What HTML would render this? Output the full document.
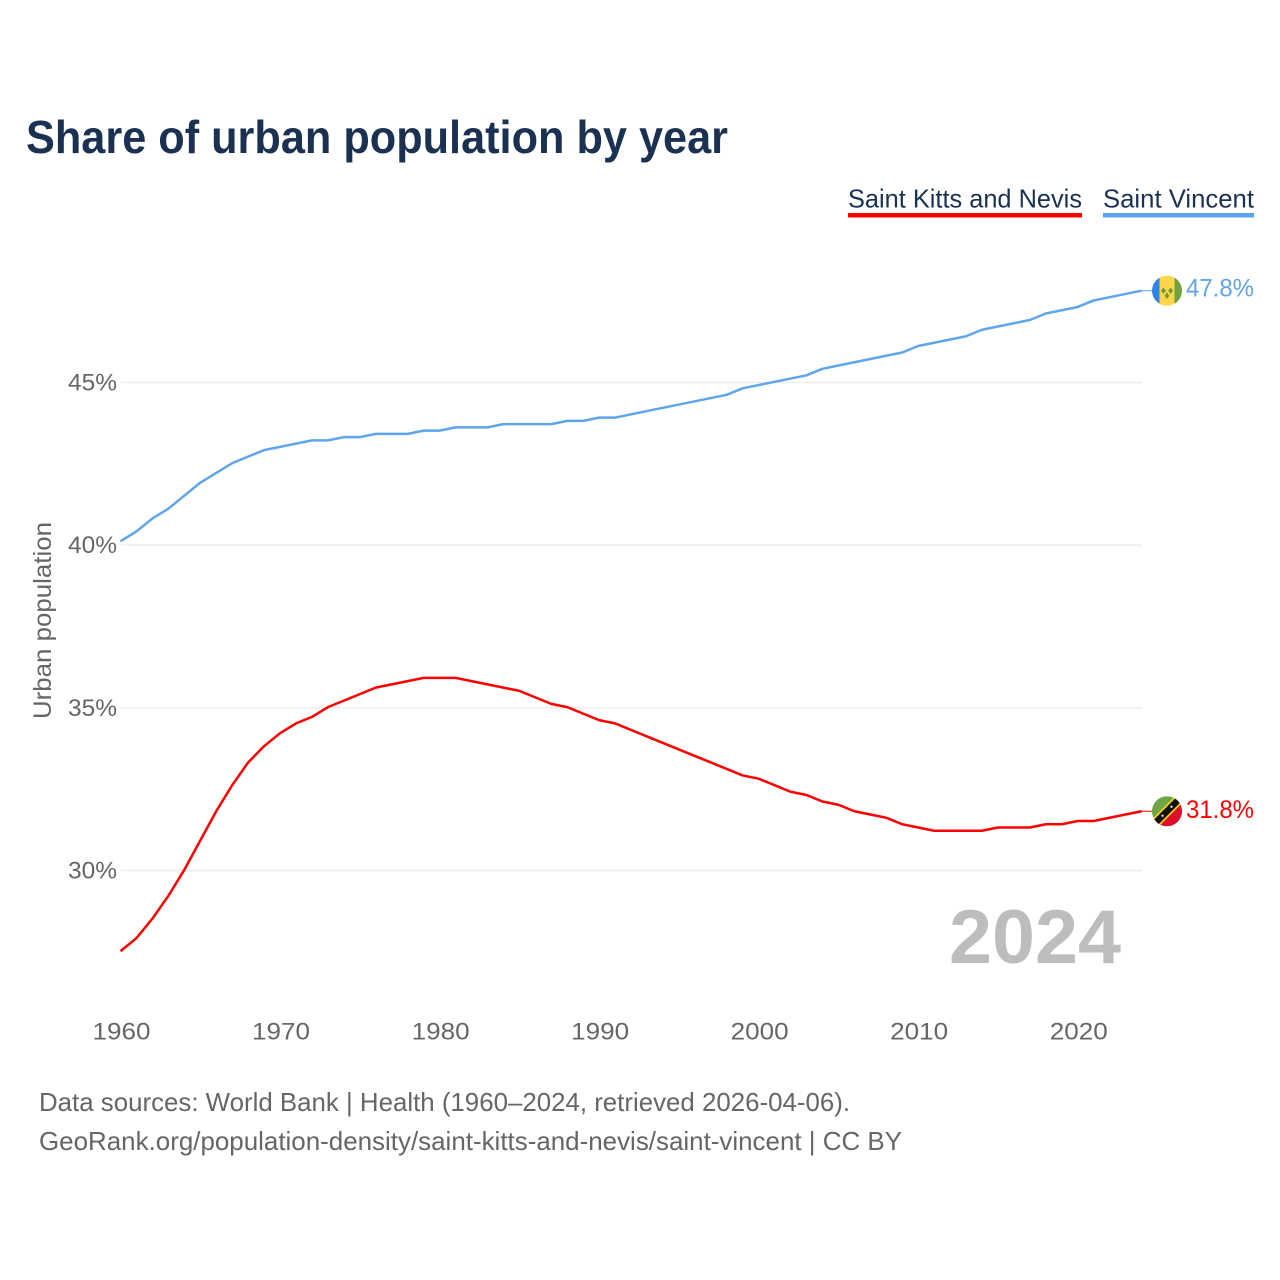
<!DOCTYPE html>
<html lang="en">
<head>
<meta charset="utf-8">
<title>Share of urban population by year</title>
<style>
html,body{margin:0;padding:0;background:#fff;width:1280px;height:1280px;overflow:hidden}
svg{display:block}
text{font-family:"Liberation Sans",sans-serif}
</style>
</head>
<body>
<svg id="chart" xmlns="http://www.w3.org/2000/svg" width="1280" height="1280" viewBox="0 0 1280 1280">
  <rect width="1280" height="1280" fill="#fff"/>
  <text x="26" y="153" font-size="46" font-weight="700" fill="#1a3152" textLength="702" lengthAdjust="spacingAndGlyphs">Share of urban population by year</text>

  <g>
    <text x="848" y="207.5" font-size="26" fill="#1a3152" textLength="234" lengthAdjust="spacingAndGlyphs">Saint Kitts and Nevis</text>
    <rect x="848" y="213" width="234" height="4.5" fill="#ff0000"/>
  </g>
  <g>
    <text x="1103" y="207.5" font-size="26" fill="#1a3152" textLength="151" lengthAdjust="spacingAndGlyphs">Saint Vincent</text>
    <rect x="1103" y="213" width="151" height="4.5" fill="#5fa5ec"/>
  </g>

  <g id="grid"></g>
  <g id="yticks"></g>
  <g id="xticks"></g>
  <text transform="translate(51,719) rotate(-90)" font-size="25" fill="#666" textLength="197" lengthAdjust="spacingAndGlyphs">Urban population</text>
  <text x="949" y="963" font-size="76" font-weight="700" fill="#bdbdbd" textLength="172" lengthAdjust="spacingAndGlyphs">2024</text>
  <g id="series"></g>

  <defs>
    <clipPath id="clip-flag-vc"><circle cx="0" cy="0" r="15"/></clipPath>
    <clipPath id="clip-flag-kn"><circle cx="0" cy="0" r="15"/></clipPath>
  </defs>

  <g id="flag-vc">
    <g clip-path="url(#clip-flag-vc)">
      <rect x="-15" y="-15" width="7.5" height="30" fill="#2f84e8"/>
      <rect x="-7.5" y="-15" width="15" height="30" fill="#fdd54a"/>
      <rect x="7.5" y="-15" width="7.5" height="30" fill="#6ea23f"/>
      <path d="M-6 0l2.4-3.2 2.4 3.2-2.4 3.2zM1.2 0l2.4-3.2 2.4 3.2-2.4 3.2zM-2.4 5l2.4-3.2 2.4 3.2-2.4 3.2z" fill="#6a9a38"/>
    </g>
  </g>
  <g id="flag-kn">
    <g clip-path="url(#clip-flag-kn)">
      <rect x="-15" y="-15" width="30" height="30" fill="#6ea645"/>
      <path d="M15 -15V15H-15Z" fill="#dd0f2d"/>
      <path d="M-15 15L15 -15" stroke="#fcd116" stroke-width="10"/>
      <path d="M-15 15L15 -15" stroke="#111" stroke-width="6.5"/>
      <circle cx="-4.5" cy="4.5" r="1.1" fill="#eee"/>
      <circle cx="4.5" cy="-4.5" r="1.1" fill="#eee"/>
    </g>
  </g>

  <text id="value-vc" x="1186" font-size="25" fill="#5fa5ec" textLength="68" lengthAdjust="spacingAndGlyphs"></text>
  <text id="value-kn" x="1186" font-size="25" fill="#ff0000" textLength="68" lengthAdjust="spacingAndGlyphs"></text>

  <text x="39" y="1111" font-size="26" fill="#666" textLength="811" lengthAdjust="spacingAndGlyphs">Data sources: World Bank | Health (1960–2024, retrieved 2026-04-06).</text>
  <text x="39" y="1150" font-size="26" fill="#666" textLength="863" lengthAdjust="spacingAndGlyphs">GeoRank.org/population-density/saint-kitts-and-nevis/saint-vincent | CC BY</text>
</svg>
<script>
const startYear = 1960;
const kittsValues = [27.5,27.9,28.5,29.2,30.0,30.9,31.8,32.6,33.3,33.8,34.2,34.5,34.7,35.0,35.2,35.4,35.6,35.7,35.8,35.9,35.9,35.9,35.8,35.7,35.6,35.5,35.3,35.1,35.0,34.8,34.6,34.5,34.3,34.1,33.9,33.7,33.5,33.3,33.1,32.9,32.8,32.6,32.4,32.3,32.1,32.0,31.8,31.7,31.6,31.4,31.3,31.2,31.2,31.2,31.2,31.3,31.3,31.3,31.4,31.4,31.5,31.5,31.6,31.7,31.8];
const vincentValues = [40.1,40.4,40.8,41.1,41.5,41.9,42.2,42.5,42.7,42.9,43.0,43.1,43.2,43.2,43.3,43.3,43.4,43.4,43.4,43.5,43.5,43.6,43.6,43.6,43.7,43.7,43.7,43.7,43.8,43.8,43.9,43.9,44.0,44.1,44.2,44.3,44.4,44.5,44.6,44.8,44.9,45.0,45.1,45.2,45.4,45.5,45.6,45.7,45.8,45.9,46.1,46.2,46.3,46.4,46.6,46.7,46.8,46.9,47.1,47.2,47.3,47.5,47.6,47.7,47.8];
const yTicks = [30,35,40,45];
const xTicks = [1960,1970,1980,1990,2000,2010,2020];

const NS = 'http://www.w3.org/2000/svg';
const xScale = y => 120.5 + (y - 1960) * (1141.5 - 120.5) / 64;
const yScale = v => 870.5 - (v - 30) * (870.5 - 382.5) / 15;
const grid = document.getElementById('grid');
const yGroup = document.getElementById('yticks');
const xGroup = document.getElementById('xticks');
const seriesGroup = document.getElementById('series');

yTicks.forEach(t => {
  const line = document.createElementNS(NS, 'line');
  
  
  line.setAttribute('x1', 121);
  line.setAttribute('x2', 1142);
  line.setAttribute('y1', yScale(t));
  line.setAttribute('y2', yScale(t));
  line.setAttribute('stroke', '#eeeeee');
  line.setAttribute('stroke-width', '1.5');
  grid.appendChild(line);

  const label = document.createElementNS(NS, 'text');
  
  
  label.setAttribute('x', 68);
  label.setAttribute('y', yScale(t) + 8);
  label.setAttribute('font-size', '24');
  label.setAttribute('fill', '#666');
  label.setAttribute('textLength', '49');
  label.setAttribute('lengthAdjust', 'spacingAndGlyphs');
  label.textContent = t + '%';
  yGroup.appendChild(label);
});

xTicks.forEach(t => {
  const label = document.createElementNS(NS, 'text');
  
  
  label.setAttribute('x', xScale(t) - 28);
  label.setAttribute('y', 1039.5);
  label.setAttribute('font-size', '24');
  label.setAttribute('fill', '#666');
  label.setAttribute('textLength', '58');
  label.setAttribute('lengthAdjust', 'spacingAndGlyphs');
  label.textContent = t;
  xGroup.appendChild(label);
});

function drawSeries(values, color, key) {
  const d = values.map((v, i) => (i ? 'L' : 'M') + xScale(startYear + i).toFixed(2) + ' ' + (yScale(v) - 0.7).toFixed(2)).join('');
  const path = document.createElementNS(NS, 'path');
  
  
  path.setAttribute('d', d);
  path.setAttribute('fill', 'none');
  path.setAttribute('stroke', color);
  path.setAttribute('stroke-width', '2.5');
  path.setAttribute('stroke-linejoin', 'round');
  seriesGroup.appendChild(path);

  const last = values[values.length - 1];
  const connector = document.createElementNS(NS, 'line');
  
  
  connector.setAttribute('x1', xScale(startYear + values.length - 1));
  connector.setAttribute('x2', xScale(startYear + values.length - 1) + 11);
  connector.setAttribute('y1', yScale(last) - 0.7);
  connector.setAttribute('y2', yScale(last) - 0.7);
  connector.setAttribute('stroke', color);
  connector.setAttribute('stroke-width', '1');
  seriesGroup.appendChild(connector);
}
drawSeries(kittsValues, '#ff0000', 'saint-kitts-and-nevis');
drawSeries(vincentValues, '#5fa5ec', 'saint-vincent');

function placeEnd(values, flagId, valueId, labelOffset) {
  const last = values[values.length - 1];
  const y = yScale(last);
  document.getElementById(flagId).setAttribute('transform', 'translate(1167,' + (y - 0.7) + ')');
  const t = document.getElementById(valueId);
  t.setAttribute('y', y + labelOffset);
  t.textContent = last.toFixed(1) + '%';
}
placeEnd(vincentValues, 'flag-vc', 'value-vc', 5);
placeEnd(kittsValues, 'flag-kn', 'value-kn', 6);
</script>
</body>
</html>
